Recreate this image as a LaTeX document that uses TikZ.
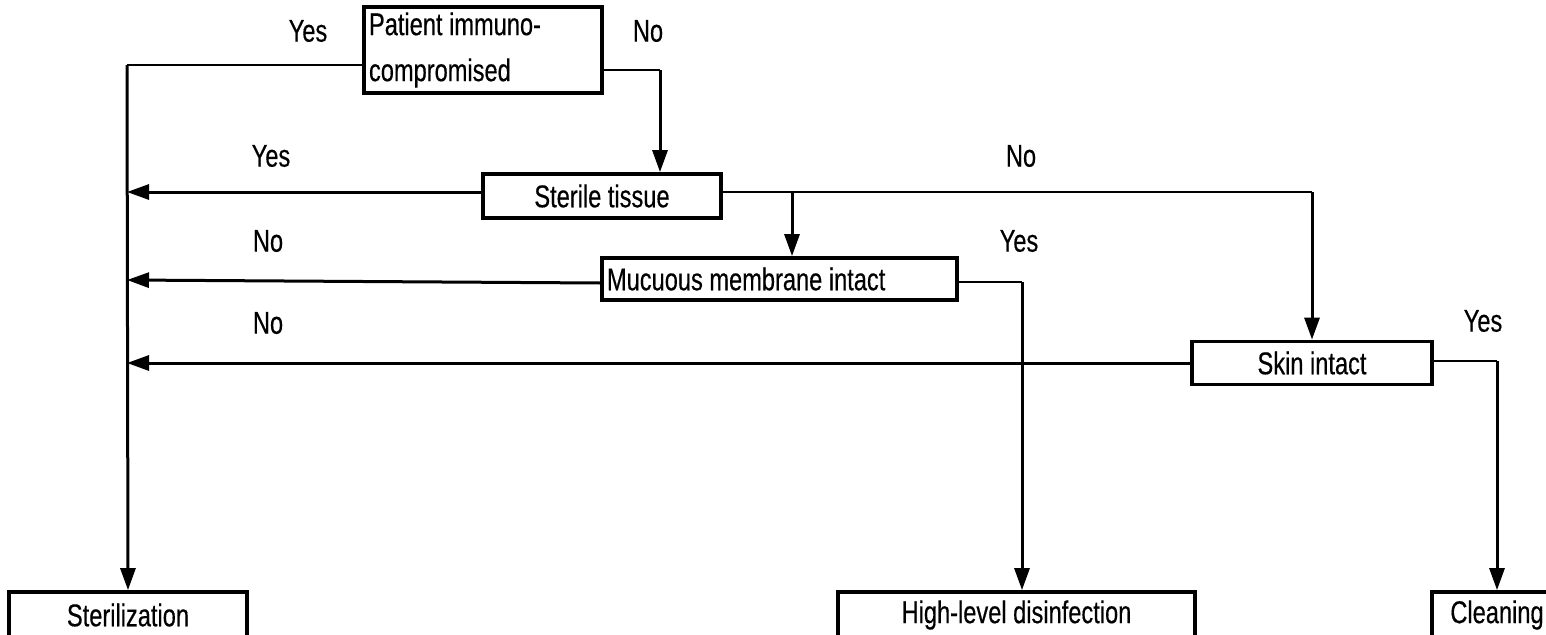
\documentclass[tikz,border=0pt]{standalone}
\usepackage{fontspec}
\setmainfont[FakeStretch=0.75,FakeBold=0.4]{Liberation Sans}
\usetikzlibrary{arrows.meta}
\begin{document}
\begin{tikzpicture}[x=1pt,y=-1pt,
  every node/.style={font=\fontsize{31.5pt}{46pt}\selectfont},
  box/.style={draw, line width=3.8pt, inner sep=0pt, minimum height=43pt},
  lbl/.style={inner sep=0pt},
  thin/.style={line width=1.6pt},
  arr/.style={line width=3pt, -{Triangle[length=22pt,width=15pt]}}]
\useasboundingbox (0,0) rectangle (1546,634);
% boxes
\node[box, minimum width=238pt, minimum height=86pt, text width=228pt, align=flush left] (pat) at (483,50) {Patient immuno-\\compromised};
\node[box, minimum width=238pt, minimum height=44pt] (ster) at (602,196) {Sterile tissue};
\node[box, minimum width=355pt, minimum height=42pt, text width=345pt, align=flush left] (muc) at (779.5,279) {Mucuous membrane intact};
\node[box, minimum width=240pt] (skin) at (1312,363) {Skin intact};
\node[box, minimum width=238pt, minimum height=46pt] (steril) at (128,615) {Sterilization};
\node[box, minimum width=357pt, minimum height=46pt] (hld) at (1016.5,615) {High-level disinfection};
\node[box, minimum width=130pt, minimum height=46pt] (clean) at (1497,615) {Cleaning};
% labels
\node[lbl] (l1) at (308,31) {Yes};
\node[lbl] (l2) at (648,31) {No};
\node[lbl] (l3) at (271,156) {Yes};
\node[lbl] (l4) at (1021,156) {No};
\node[lbl] (l5) at (268,241) {No};
\node[lbl] (l6) at (1019,241) {Yes};
\node[lbl] (l7) at (268,323) {No};
\node[lbl] (l8) at (1483,321) {Yes};
% coordinates
\coordinate (tl) at (127,65);
\coordinate (tr) at (660,70);
\coordinate (sr) at (1312,192);
\coordinate (sb) at (792,192);
\coordinate (mr) at (1022,282);
\coordinate (kr) at (1497,361);
\coordinate (y1) at (127,192);
\coordinate (y2) at (127,280);
\coordinate (y3) at (127,363);
% connectors
\draw[thin] (pat.west |- tl) -- (tl);
\draw[arr] (tl) -- (steril.north);
\draw[thin] (pat.east |- tr) -- (tr);
\draw[arr] (tr) -- (tr |- ster.north);
\draw[arr] (ster.west |- y1) -- (y1);
\draw[thin] (ster.east |- sr) -- (sr);
\draw[arr] (sb) -- (sb |- muc.north);
\draw[arr] (sr) -- (sr |- skin.north);
\draw[arr] (muc.west |- 0,283) -- (y2);
\draw[thin] (muc.east |- mr) -- (mr);
\draw[arr] (mr) -- (mr |- hld.north);
\draw[arr] (skin.west) -- (y3);
\draw[thin] (skin.east |- kr) -- (kr);
\draw[arr] (kr) -- (kr |- clean.north);
\end{tikzpicture}
\end{document}
